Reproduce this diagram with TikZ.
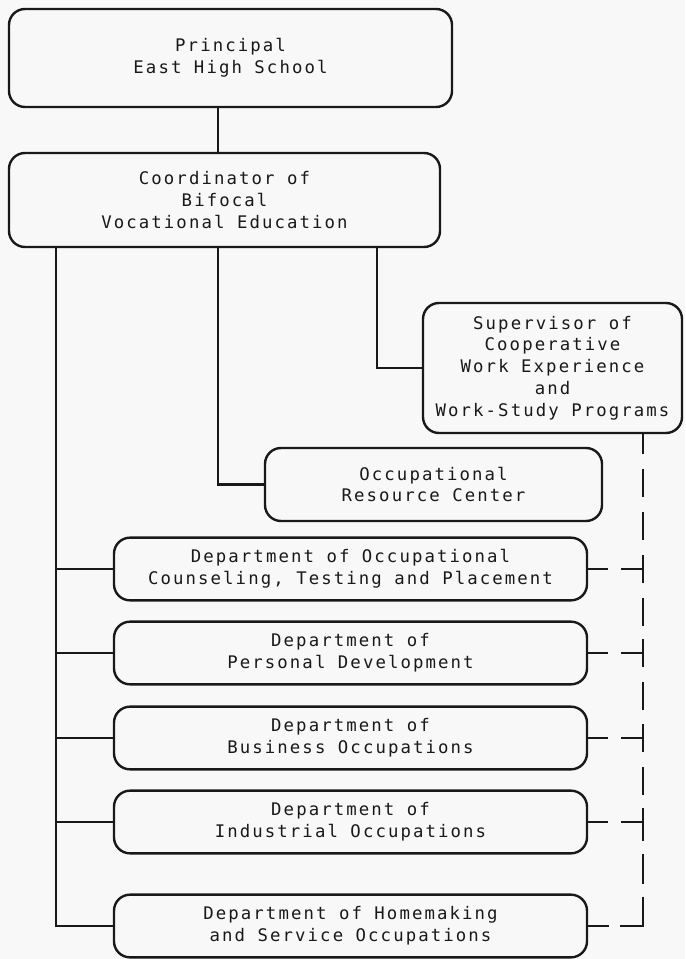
\documentclass[tikz,border=0pt]{standalone}
\usepackage{fontspec}
\newfontfamily\typew[LetterSpace=12]{DejaVu Sans Mono}
\definecolor{paper}{RGB}{248,248,248}
\definecolor{ink}{RGB}{25,25,25}
\begin{document}
\begin{tikzpicture}[x=0.75pt,y=-0.75pt,
  box/.style={draw=ink, line width=1.8pt, rounded corners=12pt, inner sep=0pt,
    align=center, text=ink, font=\typew\fontsize{13}{16.3}\selectfont},
  conn/.style={draw=ink, line width=2.1pt},
  vdash/.style={conn, dash pattern=on 21pt off 11.25pt, dash phase=10.5pt},
  hdash/.style={conn, dash pattern=on 16.5pt off 9.75pt}]
\fill[paper] (0,0) rectangle (685,959);
\useasboundingbox (0,0) rectangle (685,959);

\node[box, minimum width=332.25pt, minimum height=73.5pt] (prin) at (230.5,58)
  {Principal\\East High School};
\node[box, minimum width=323.25pt, minimum height=70.5pt] (coord) at (224.5,200)
  {Coordinator of\\Bifocal\\Vocational Education};
\node[box, minimum width=194.25pt, minimum height=97.5pt] (sup) at (552.5,368)
  {Supervisor of\\Cooperative\\Work Experience\\and\\Work-Study Programs};
\node[box, minimum width=252.75pt, minimum height=54.75pt] (orc) at (433.5,484.5)
  {Occupational\\Resource Center};
\node[box, minimum width=354.75pt, minimum height=47pt] (d1) at (350.5,569)
  {Department of Occupational\\Counseling, Testing and Placement};
\node[box, minimum width=354.75pt, minimum height=47pt] (d2) at (350.5,653)
  {Department of\\Personal Development};
\node[box, minimum width=354.75pt, minimum height=47pt] (d3) at (350.5,738)
  {Department of\\Business Occupations};
\node[box, minimum width=354.75pt, minimum height=47pt] (d4) at (350.5,822)
  {Department of\\Industrial Occupations};
\node[box, minimum width=354.75pt, minimum height=47pt] (d5) at (350.5,926)
  {Department of Homemaking\\and Service Occupations};

\coordinate (mx) at (218,0);
\coordinate (lx) at (56,0);
\coordinate (rx) at (377,0);
\coordinate (dx) at (643,0);

\draw[conn] (prin.south -| mx) -- (coord.north -| mx);
\draw[conn] (coord.south -| lx) |- (d5.west);
\foreach \n in {d1,d2,d3,d4} \draw[conn] (lx |- \n.west) -- (\n.west);
\draw[conn] (coord.south -| mx) |- (orc.west);
\draw[conn] (coord.south -| rx) |- (sup.west);

\foreach \n in {1,...,5} \coordinate (j\n) at (d\n.east -| dx);
\coordinate (jt) at (sup.south -| dx);
\draw[vdash] (j1) -- (jt);
\draw[vdash] (j1) -- (j2);
\draw[vdash] (j2) -- (j3);
\draw[vdash] (j3) -- (j4);
\draw[conn, dash pattern=on 21pt off 11.25pt, line cap=rect] (j5) -- (j4);
\foreach \n in {1,...,4} \draw[conn] ([yshift=10.5pt]j\n) -- ([yshift=-10.5pt]j\n);
\foreach \n in {1,...,4} \draw[hdash] (j\n) -- (d\n.east);
\draw[hdash, line cap=rect] (j5) -- (d5.east);
\end{tikzpicture}
\end{document}
